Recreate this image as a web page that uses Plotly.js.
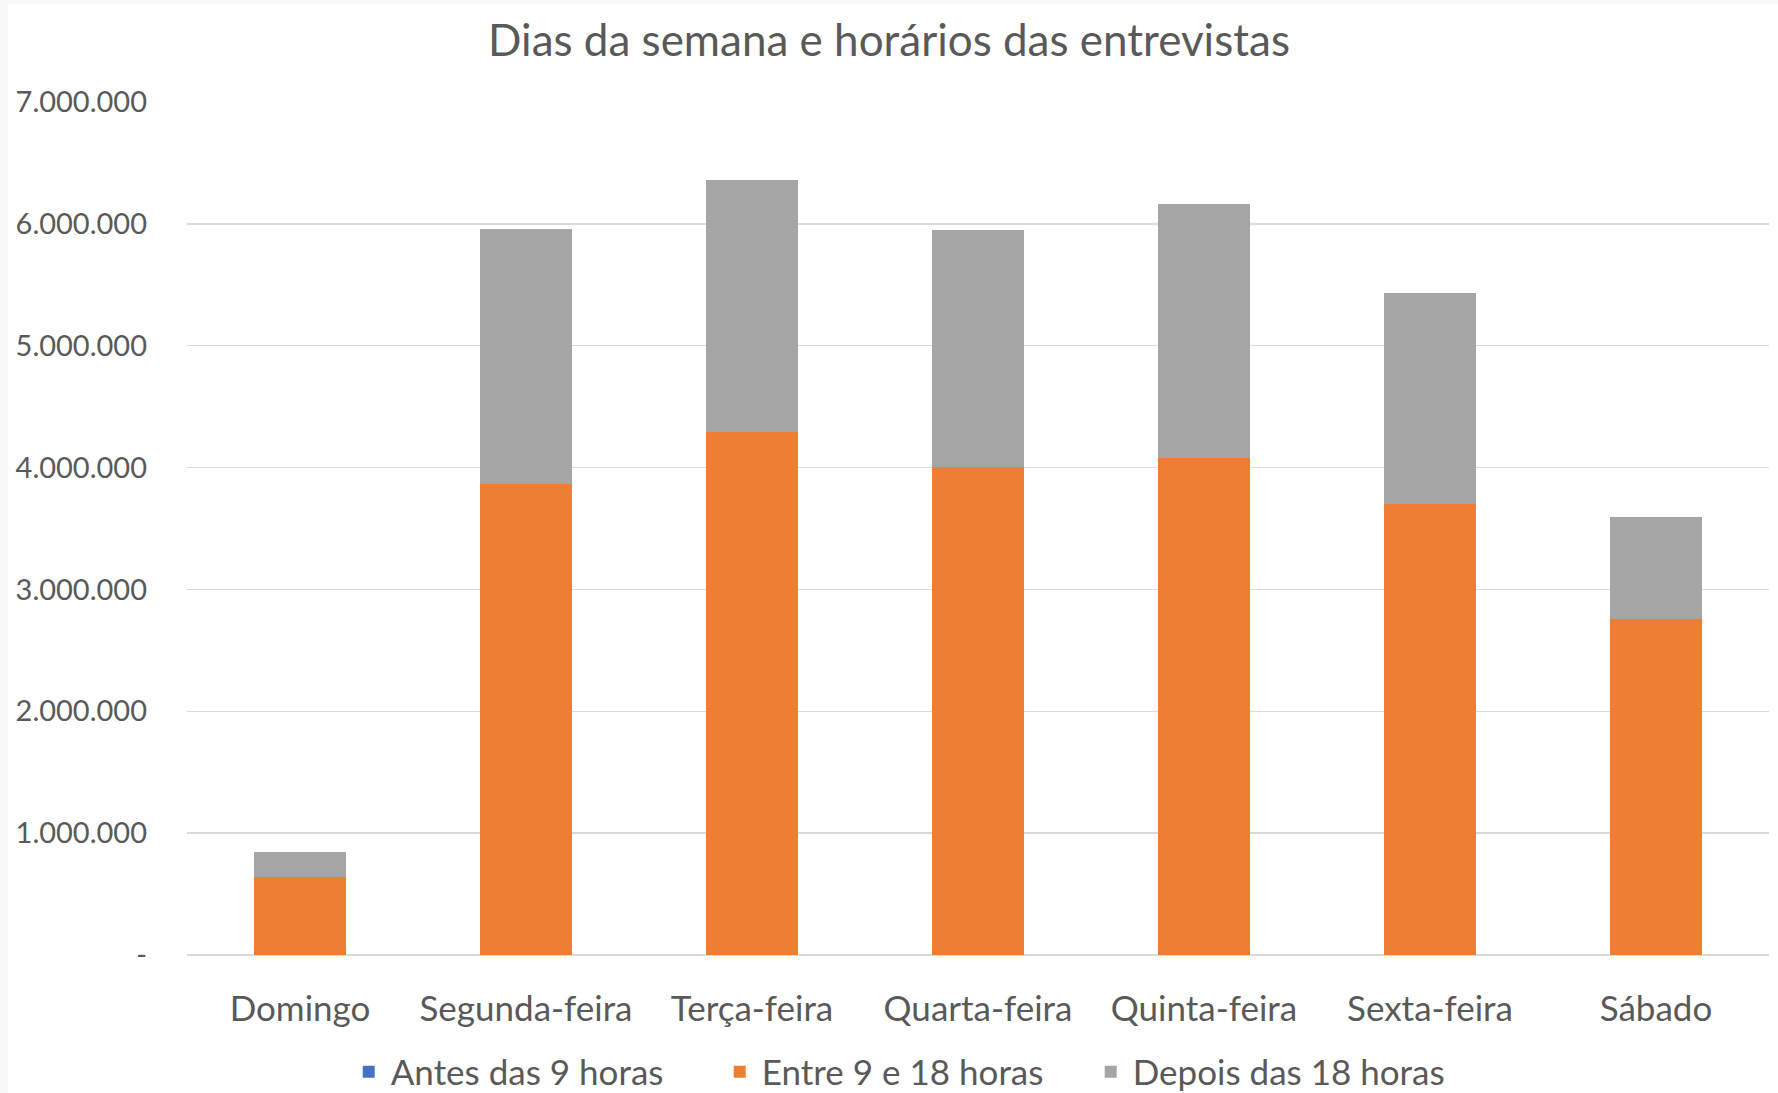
<!DOCTYPE html>
<html>
<head>
<meta charset="utf-8">
<script src="https://cdn.plot.ly/plotly-3.0.1.min.js"></script>
<style>html,body{margin:0;padding:0;background:#fff;}#chart{width:1778px;height:1093px;}</style>
</head>
<body>
<div id="chart"></div>
<script>
const categories = ["Domingo", "Segunda-feira", "Terça-feira", "Quarta-feira", "Quinta-feira", "Sexta-feira", "Sábado"];
const antesDas9 = [0, 0, 0, 0, 0, 0, 0];
const entre9e18 = [644000, 3866000, 4296000, 4006000, 4080000, 3700000, 2755000];
const depoisDas18 = [205000, 2094000, 2064000, 1943000, 2085000, 1730000, 838000];
const yTickVals = [0, 1000000, 2000000, 3000000, 4000000, 5000000, 6000000, 7000000];
const yTickText = ["-", "1.000.000", "2.000.000", "3.000.000", "4.000.000", "5.000.000", "6.000.000", "7.000.000"];

const font = "Lato, 'Open Sans', sans-serif";
const txt = "#595959";

const traces = [
  {type: "bar", name: "Antes das 9 horas", x: categories, y: antesDas9, marker: {color: "#4472C4"}},
  {type: "bar", name: "Entre 9 e 18 horas", x: categories, y: entre9e18, marker: {color: "#ED7D31"}},
  {type: "bar", name: "Depois das 18 horas", x: categories, y: depoisDas18, marker: {color: "#A5A5A5"}}
];

const W = 1778, H = 1093;
const m = {l: 187, r: 9, t: 102, b: 138};
const pw = W - m.l - m.r, ph = H - m.t - m.b;

const layout = {
  width: W, height: H,
  barmode: "stack",
  bargap: 0.594,
  paper_bgcolor: "#f8f8f8",
  plot_bgcolor: "#ffffff",
  margin: m,
  font: {family: font, color: txt},
  title: {text: "Dias da semana e horários das entrevistas", font: {family: font, size: 44, color: txt},
          x: 0.5, xanchor: "center", xref: "container", y: 1 - 41/H, yanchor: "middle", yref: "container"},
  xaxis: {tickfont: {size: 35, color: txt, family: font}, showgrid: false, showline: false, zeroline: false,
          ticks: "", ticklabelstandoff: 30},
  yaxis: {range: [0, 7000000], tickvals: yTickVals, ticktext: yTickText, tickfont: {size: 29, color: txt, family: font},
          showgrid: true, gridcolor: "#d9d9d9", gridwidth: 1.5, zeroline: true, zerolinecolor: "#d9d9d9", zerolinewidth: 1.5,
          showline: false, ticks: "", ticklabelstandoff: 39},
  legend: {orientation: "h", x: 0.508, xanchor: "center", xref: "container", y: 1 - 1072/H, yanchor: "middle", yref: "container",
           font: {size: 35, color: txt, family: font}, traceorder: "normal", itemwidth: 34, entrywidth: 322,
           bgcolor: "rgba(0,0,0,0)"},
  shapes: [{type: "rect", xref: "paper", yref: "paper", layer: "below",
            x0: (8 - m.l) / pw, x1: (W + 5 - m.l) / pw,
            y0: (H - m.b - (H + 5)) / ph, y1: (H - m.b - 4) / ph,
            fillcolor: "#ffffff", line: {width: 0}}],
  showlegend: true
};
Plotly.newPlot("chart", traces, layout, {displayModeBar: false, staticPlot: true});
</script>
</body>
</html>
